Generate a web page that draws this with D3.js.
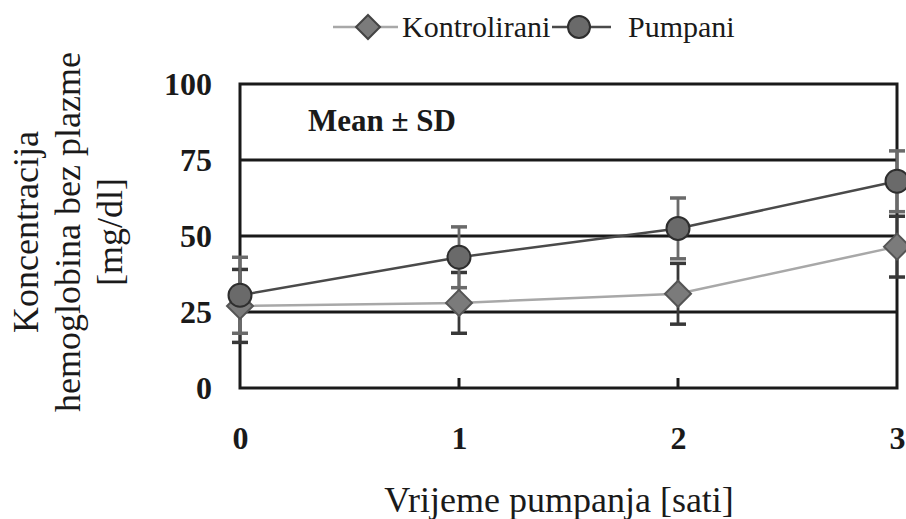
<!DOCTYPE html>
<html><head><meta charset="utf-8">
<script src="https://cdn.jsdelivr.net/npm/d3@7"></script>
<style>body{margin:0;background:#fff}svg{display:block}text{font-family:"Liberation Serif","Times New Roman",Times,serif}</style>
</head><body>
<svg id="c" width="906" height="519"></svg>
<script>
const hours = [0, 1, 2, 3];
const kontroliraniMean = [27, 28, 31, 46.5];
const kontroliraniSD = [12, 10, 10, 10];
const pumpaniMean = [30.5, 43, 52.5, 68];
const pumpaniSD = [12.5, 10, 10, 10];
const yTicks = [0, 25, 50, 75, 100];
const xTicks = [0, 1, 2, 3];
const seriesNames = ["Kontrolirani", "Pumpani"];

const svg = d3.select("#c");
const x = d3.scaleLinear().domain([0, 3]).range([240, 897]);
const y = d3.scaleLinear().domain([0, 100]).range([388, 84]);

// grid lines
svg.append("g").selectAll("line").data(yTicks.filter(d => d > 0 && d < 100)).join("line")
  .attr("x1", x(0)).attr("x2", x(3)).attr("y1", d => y(d)).attr("y2", d => y(d))
  .attr("stroke", "#1a1a1a").attr("stroke-width", 3);
// frame
svg.append("rect").attr("x", x(0)).attr("y", y(100)).attr("width", x(3) - x(0)).attr("height", y(0) - y(100))
  .attr("fill", "none").attr("stroke", "#1a1a1a").attr("stroke-width", 3);

// y axis
const yAxis = d3.axisLeft(y).tickValues(yTicks).tickFormat(d3.format("d")).tickSize(0).tickPadding(28);
const yg = svg.append("g").attr("transform", `translate(${x(0)},0)`).call(yAxis);
yg.select(".domain").remove();
yg.attr("font-family", null);
yg.selectAll("text").attr("font-size", 32).attr("font-weight", "bold").attr("fill", "#1a1a1a").attr("dy", "0.34em");

// x axis
const xAxis = d3.axisBottom(x).tickValues(xTicks).tickFormat(d3.format("d")).tickSize(0).tickPadding(38);
const xg = svg.append("g").attr("transform", `translate(0,${y(0)})`).call(xAxis);
xg.select(".domain").remove();
xg.attr("font-family", null);
xg.selectAll("text").attr("font-size", 32).attr("font-weight", "bold").attr("fill", "#1a1a1a");
// inner ticks
svg.append("g").selectAll("line").data(xTicks.filter(d => d > 0 && d < 3)).join("line")
  .attr("x1", d => x(d)).attr("x2", d => x(d)).attr("y1", y(0)).attr("y2", y(0) - 10)
  .attr("stroke", "#1a1a1a").attr("stroke-width", 3);

// lines
const line = d3.line().x((d, i) => x(hours[i])).y(d => y(d));
svg.append("path").datum(kontroliraniMean).attr("d", line).attr("fill", "none").attr("stroke", "#a8a8a8").attr("stroke-width", 2.5);
svg.append("path").datum(pumpaniMean).attr("d", line).attr("fill", "none").attr("stroke", "#4a4a4a").attr("stroke-width", 2.5);

// error bars
function errBars(means, sds, color) {
  const g = svg.append("g").attr("stroke", color).attr("stroke-width", 2.8);
  means.forEach((m, i) => {
    const cx = x(hours[i]);
    g.append("line").attr("x1", cx).attr("x2", cx).attr("y1", y(m - sds[i])).attr("y2", y(m + sds[i]));
    [m - sds[i], m + sds[i]].forEach(v => {
      g.append("line").attr("x1", cx - 8).attr("x2", cx + 8).attr("y1", y(v)).attr("y2", y(v)).attr("stroke-width", 3.5);
    });
  });
}
errBars(kontroliraniMean, kontroliraniSD, "#383838");
errBars(pumpaniMean, pumpaniSD, "#6a6a6a");

// markers
const diamond = (cx, cy, s) => `M${cx},${cy - s}L${cx + s},${cy}L${cx},${cy + s}L${cx - s},${cy}Z`;
svg.append("g").selectAll("path").data(kontroliraniMean).join("path")
  .attr("d", (d, i) => diamond(x(hours[i]), y(d), 13))
  .attr("fill", "#7b7b7b").attr("stroke", "#555").attr("stroke-width", 2);
svg.append("g").selectAll("circle").data(pumpaniMean).join("circle")
  .attr("cx", (d, i) => x(hours[i])).attr("cy", d => y(d)).attr("r", 11.5)
  .attr("fill", "#6a6a6a").attr("stroke", "#2e2e2e").attr("stroke-width", 2);

// annotation
svg.append("text").attr("x", 308).attr("y", 131).attr("font-size", 31).attr("font-weight", "bold").attr("fill", "#1a1a1a").text("Mean ± SD");

// axis titles
svg.append("text").attr("x", 559).attr("y", 512).attr("text-anchor", "middle").attr("font-size", 36).attr("fill", "#1a1a1a").text("Vrijeme pumpanja [sati]");
const yTitle = ["Koncentracija", "hemoglobina bez plazme", "[mg/dl]"];
const yt = svg.append("text").attr("transform", "translate(0,232) rotate(-90)").attr("text-anchor", "middle").attr("font-size", 36).attr("fill", "#1a1a1a");
yTitle.forEach((t, i) => yt.append("tspan").attr("x", 0).attr("y", 38 + i * 42).text(t));

// legend
const lg = svg.append("g");
lg.append("line").attr("x1", 333).attr("x2", 398).attr("y1", 27).attr("y2", 27).attr("stroke", "#a8a8a8").attr("stroke-width", 2.5);
lg.append("path").attr("d", diamond(368, 27, 12)).attr("fill", "#7b7b7b").attr("stroke", "#444").attr("stroke-width", 2);
lg.append("text").attr("x", 402).attr("y", 37).attr("font-size", 30).attr("fill", "#1a1a1a").text(seriesNames[0]);
lg.append("line").attr("x1", 552).attr("x2", 611).attr("y1", 27).attr("y2", 27).attr("stroke", "#4a4a4a").attr("stroke-width", 2.5);
lg.append("circle").attr("cx", 579).attr("cy", 27).attr("r", 11).attr("fill", "#6a6a6a").attr("stroke", "#2e2e2e").attr("stroke-width", 2);
lg.append("text").attr("x", 628).attr("y", 37).attr("font-size", 30).attr("fill", "#1a1a1a").text(seriesNames[1]);
</script>
</body></html>
